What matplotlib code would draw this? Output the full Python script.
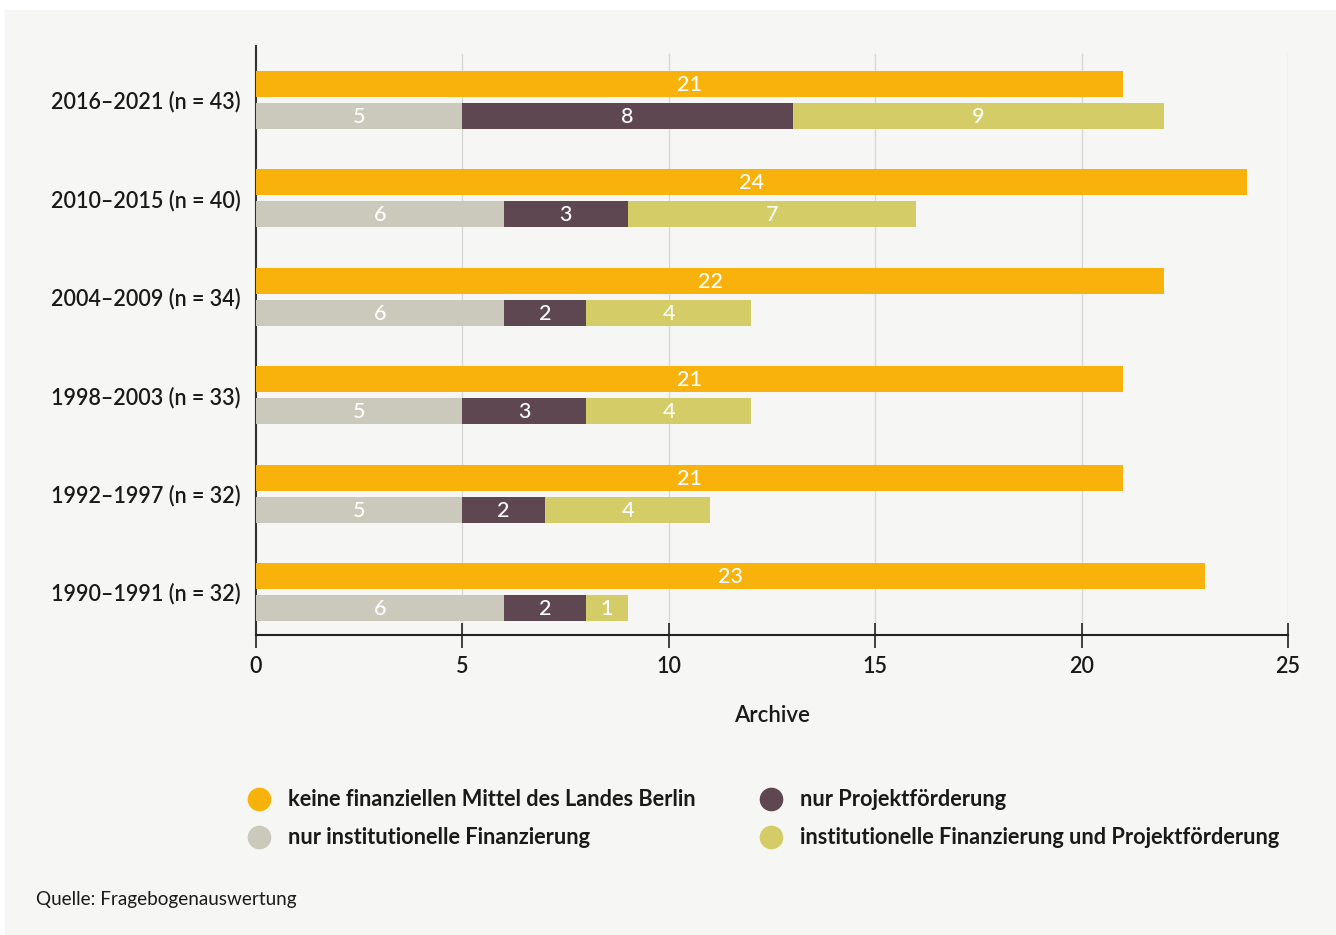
import matplotlib
matplotlib.use("Agg")
import matplotlib.pyplot as plt
from matplotlib.patches import Rectangle
from matplotlib.lines import Line2D
import numpy as np

plt.rcParams['font.family'] = ['Lato', 'DejaVu Sans']

categories = ["1990–1991 (n = 32)", "1992–1997 (n = 32)", "1998–2003 (n = 33)",
              "2004–2009 (n = 34)", "2010–2015 (n = 40)", "2016–2021 (n = 43)"]
keine = [23, 21, 21, 22, 24, 21]
nur_inst = [6, 5, 5, 6, 6, 5]
nur_proj = [2, 2, 3, 2, 3, 8]
inst_proj = [1, 4, 4, 4, 7, 9]

series_names = ["keine finanziellen Mittel des Landes Berlin", "nur Projektförderung",
                "nur institutionelle Finanzierung", "institutionelle Finanzierung und Projektförderung"]
c_orange = "#F9B10B"
c_gray = "#CBC9BC"
c_purple = "#5E4751"
c_yellow = "#D4CC66"
xticks = [0, 5, 10, 15, 20, 25]
xlabel = "Archive"
source = "Quelle: Fragebogenauswertung"

W, H = 1336, 935
fig = plt.figure(figsize=(W/100, H/100), dpi=100, facecolor="white")
fig.add_artist(Rectangle((5/W, 0), 1-5/W, 1-10/H, transform=fig.transFigure,
                         facecolor="#F6F6F4", edgecolor="none", zorder=0))

ax = fig.add_axes([256/W, 1-635/H, (1288-256)/W, (635-46)/H])
ax.set_facecolor("none")

y = np.arange(len(categories))
off = 0.1626
h = 0.264
ax.barh(y + off, keine, height=h, color=c_orange, zorder=3)
left = np.zeros(len(y))
ax.barh(y - off, nur_inst, height=h, left=left, color=c_gray, zorder=3)
left = left + np.array(nur_inst)
ax.barh(y - off, nur_proj, height=h, left=left, color=c_purple, zorder=3)
left = left + np.array(nur_proj)
ax.barh(y - off, inst_proj, height=h, left=left, color=c_yellow, zorder=3)

lab_kw = dict(color="white", fontsize=15.5, fontweight="medium", ha="center", va="center", zorder=4)
for i in range(len(y)):
    ax.text(keine[i]/2, y[i] + off - 0.01, str(keine[i]), **lab_kw)
    l = 0
    for vals in (nur_inst, nur_proj, inst_proj):
        ax.text(l + vals[i]/2, y[i] - off - 0.01, str(vals[i]), **lab_kw)
        l += vals[i]

ax.set_xlim(0, 25)
ax.set_ylim(-0.437, -0.437 + 589/98.4)
for xv in xticks[1:]:
    ax.axvline(xv, ymin=0, ymax=(635-54)/589, color="#D8D8D6", lw=1, zorder=1)

ax.set_xticks(xticks)
ax.set_xticklabels([str(t) for t in xticks])
ax.set_yticks(y)
ax.set_yticklabels(categories)
ax.tick_params(axis="x", direction="inout", length=18, width=1.2, color="#222222",
               labelsize=15.5, labelcolor="#1a1a1a", pad=6)
ax.tick_params(axis="y", length=0, labelsize=15.5, labelcolor="#1a1a1a", pad=11)
for lab in ax.get_yticklabels() + ax.get_xticklabels():
    lab.set_fontweight("semibold")
for s in ["top", "right"]:
    ax.spines[s].set_visible(False)
ax.spines["left"].set_color("#333333")
ax.spines["left"].set_linewidth(1.5)
ax.spines["bottom"].set_color("#222222")
ax.spines["bottom"].set_linewidth(1.5)
ax.set_xlabel(xlabel, fontsize=16, fontweight="semibold", color="#1a1a1a", labelpad=20)

# legend
leg_items = [(259, 799, c_orange, series_names[0]), (771, 799, c_purple, series_names[1]),
             (259, 837, c_gray, series_names[2]), (771, 837, c_yellow, series_names[3])]
for xm, ym, col, txt in leg_items:
    fig.add_artist(Line2D([xm/W], [1-ym/H], marker="o", markersize=16, color=col,
                          linestyle="none", transform=fig.transFigure))
    fig.text((xm+29)/W, 1-ym/H, txt, fontsize=15.7, fontweight="bold", color="#1a1a1a",
             va="center", ha="left")

fig.text(36/W, 1-900/H, source, fontsize=13.6, color="#1a1a1a", va="center", ha="left")

fig.savefig("out.png", dpi=100, facecolor=fig.get_facecolor())
